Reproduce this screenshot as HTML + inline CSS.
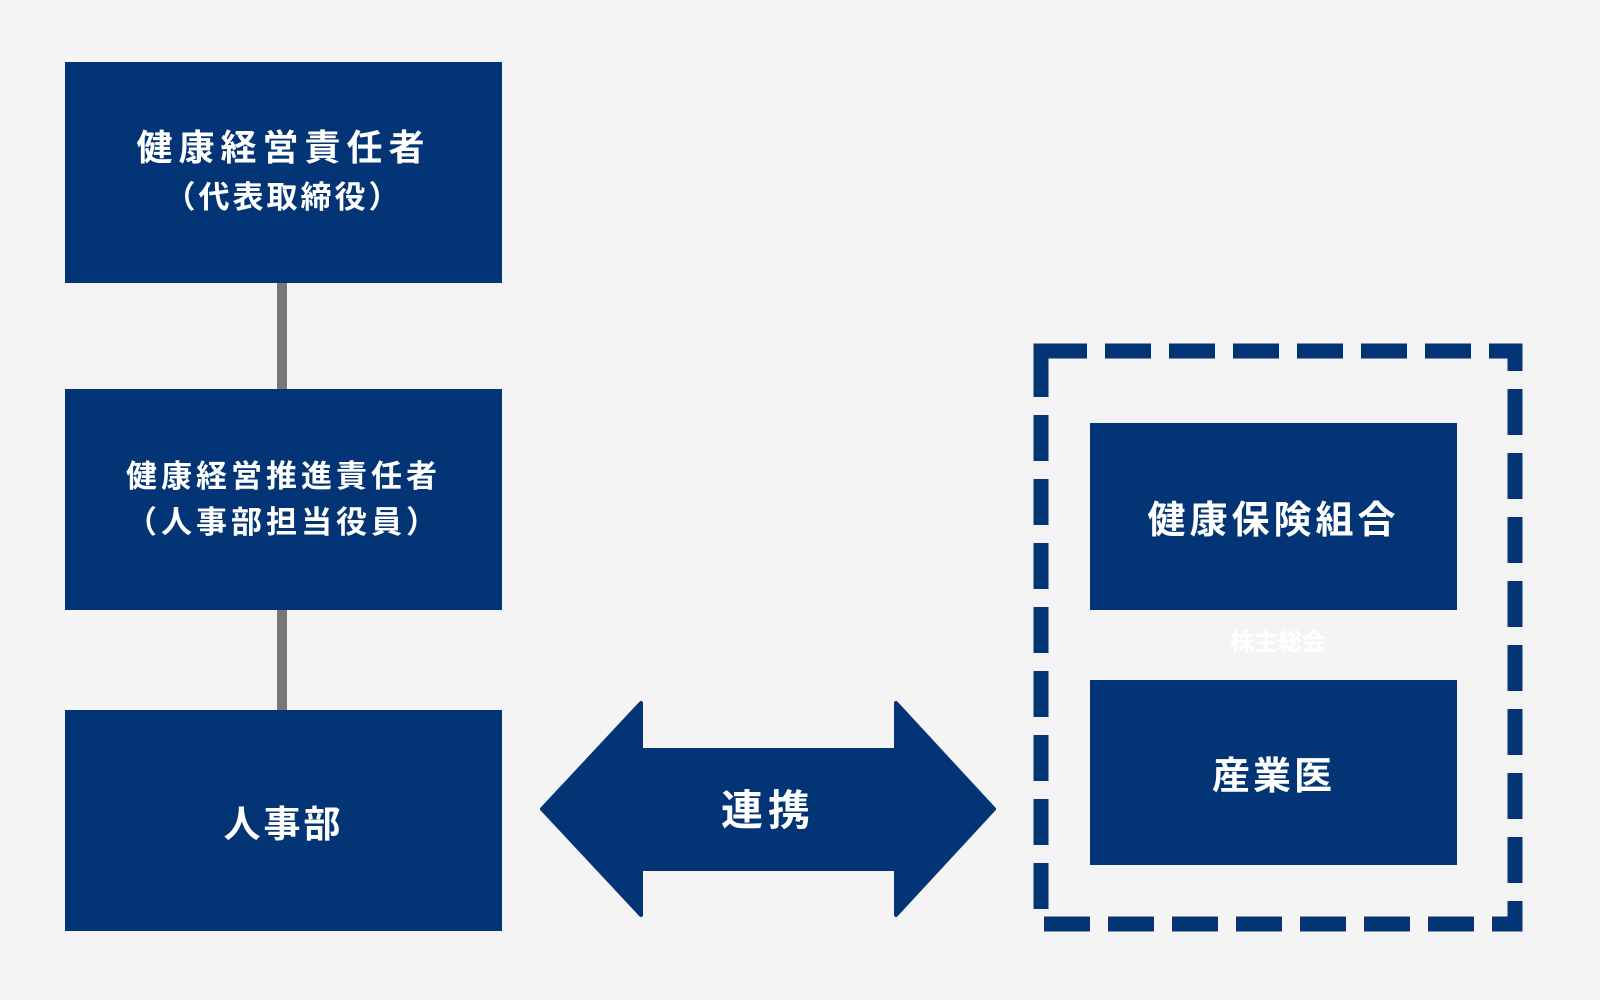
<!DOCTYPE html>
<html><head><meta charset="utf-8"><style>
body{margin:0;width:1600px;height:1000px;background:#f4f4f4;position:relative;overflow:hidden;font-family:"Liberation Sans","Noto Sans CJK JP",sans-serif;font-weight:bold}
.b{position:absolute;background:#033576;color:#fff;display:flex;flex-direction:column;align-items:center;justify-content:center;text-align:center}
.l{position:absolute;background:#777;width:10px;left:277px}
</style></head><body>
<div class="l" style="top:283px;height:106px"></div>
<div class="l" style="top:610px;height:100px"></div>
<div class="b" style="left:65px;top:62px;width:437px;height:221px;font-size:36px;line-height:50px;letter-spacing:6px"><div>健康経営責任者</div><div style="font-size:31px;letter-spacing:3px">（代表取締役）</div></div>
<div class="b" style="left:65px;top:389px;width:437px;height:221px;font-size:31px;line-height:46px;letter-spacing:4px"><div>健康経営推進責任者</div><div>（人事部担当役員）</div></div>
<div class="b" style="left:65px;top:710px;width:437px;height:221px;font-size:37px;letter-spacing:3px">人事部</div>
<svg style="position:absolute;left:0;top:0" width="1600" height="1000">
<polygon points="542,809 641,703 641,750 896,750 896,703 994,809 896,915 896,869 641,869 641,915" fill="#033576" stroke="#033576" stroke-width="4" stroke-linejoin="round"/>
<text x="768" y="825" fill="#fff" font-size="42" text-anchor="middle" letter-spacing="5" font-family="Liberation Sans, Noto Sans CJK JP, sans-serif" font-weight="bold">連携</text>
<rect x="1041" y="351" width="474" height="573" fill="none" stroke="#033576" stroke-width="15" stroke-dasharray="46 18"/>
</svg>
<div class="b" style="left:1090px;top:423px;width:367px;height:187px;font-size:38px;letter-spacing:4px">健康保険組合</div>
<div style="position:absolute;left:1178px;top:622px;width:200px;text-align:center;color:#fff;font-size:24px">株主総会</div>
<div class="b" style="left:1090px;top:680px;width:367px;height:185px;font-size:38px;letter-spacing:3px">産業医</div>
</body></html>
